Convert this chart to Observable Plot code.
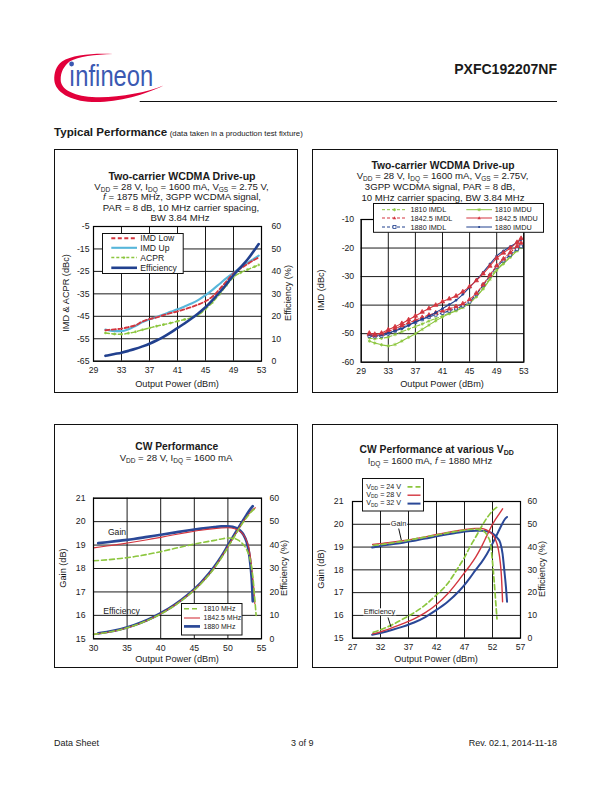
<!DOCTYPE html>
<html><head><meta charset="utf-8">
<script src="https://cdn.jsdelivr.net/npm/d3@7"></script>
<script src="https://cdn.jsdelivr.net/npm/@observablehq/plot@0.6"></script>
<style>
html,body{margin:0;padding:0;background:#fff;}
#page{position:relative;width:612px;height:792px;overflow:hidden;background:#fff;font-family:"Liberation Sans",Arial,Helvetica,sans-serif;color:#1a1a1a;}
</style></head>
<body><div id="page"></div>
<script>
// ================= DATA =================
// Chart 1: Two-carrier WCDMA Drive-up (IMD/ACPR in dBc, Efficiency in %)
const c1Pout   = [30.7, 32, 33, 34, 35, 36, 37, 38, 39, 40, 41, 42, 43, 44, 45, 46, 47, 48, 49, 50, 51, 52, 52.6];
const c1ImdLow = [-51.2,-50.8,-50.5,-49.8,-49.0,-47.3,-46.2,-45.5,-44.5,-43.6,-42.8,-41.9,-40.9,-39.7,-38.3,-36.2,-33.0,-29.4,-25.9,-23.7,-21.7,-19.8,-18.8];
const c1ImdUp  = [-50.9,-51.6,-51.6,-50.8,-49.3,-47.6,-46.3,-45.3,-44.2,-43.0,-41.9,-40.6,-39.3,-37.7,-35.6,-33.2,-30.6,-28.0,-25.6,-23.3,-21.2,-19.2,-18.0];
const c1Acpr   = [-52.4,-52.9,-53.0,-52.5,-51.9,-51.0,-50.2,-49.4,-48.7,-48.0,-47.2,-46.4,-45.6,-44.3,-41.8,-38.8,-35.2,-31.2,-27.6,-25.6,-24.2,-22.9,-22.1];
const c1Eff    = [2.4, 3.2, 3.8, 4.6, 5.5, 6.6, 7.8, 9.2, 10.8, 12.7, 14.8, 16.8, 19.0, 21.4, 24.0, 27.2, 30.6, 34.3, 38.3, 41.8, 45.3, 49.5, 52.2];
const c1XTicks = [29, 33, 37, 41, 45, 49, 53];
const c1YTicks = [-65, -55, -45, -35, -25, -15, -5];

// Chart 2: IMD vs output power at three frequencies
const c2Pout     = [30.2, 31, 32, 33, 34, 35, 36, 37, 38, 39, 40, 41, 42, 43, 44, 45, 46, 47, 48, 49, 50, 51, 52, 52.6];
const c2_1810L   = [-51.5,-51.8,-51.6,-51.2,-50.3,-49.3,-48.4,-47.5,-46.6,-45.6,-44.7,-43.8,-42.8,-41.8,-40.7,-39.3,-37.0,-34.0,-30.5,-27.4,-25.2,-23.0,-20.8,-19.8];
const c2_1810U   = [-52.6,-53.3,-53.9,-54.3,-53.8,-52.6,-51.3,-50.0,-48.5,-47.0,-45.5,-44.2,-43.0,-42.0,-40.8,-39.2,-37.0,-34.3,-31.0,-27.8,-25.5,-23.2,-21.0,-19.6];
const c2_1842L   = [-50.2,-50.6,-50.2,-49.2,-48.3,-47.2,-46.2,-45.3,-44.3,-43.5,-42.7,-42.0,-41.3,-40.5,-39.5,-38.0,-35.8,-32.8,-29.5,-26.2,-23.8,-21.6,-19.4,-18.2];
const c2_1842U   = [-49.8,-50.2,-49.8,-48.6,-47.6,-46.4,-45.1,-43.8,-42.4,-41.2,-40.0,-38.8,-37.8,-36.8,-35.3,-33.5,-31.4,-29.0,-26.3,-23.5,-21.7,-20.0,-18.0,-16.6];
const c2_1880L   = [-50.8,-51.0,-50.8,-50.0,-49.0,-47.8,-46.8,-46.0,-45.0,-44.2,-43.4,-42.8,-42.0,-41.2,-40.2,-38.8,-36.2,-33.0,-29.7,-26.6,-24.4,-22.4,-20.4,-19.4];
const c2_1880U   = [-50.3,-50.6,-50.4,-49.8,-49.0,-48.3,-47.1,-45.9,-44.9,-43.9,-42.6,-41.2,-39.8,-38.3,-36.2,-33.8,-31.2,-28.5,-25.6,-22.8,-21.0,-19.5,-18.0,-17.0];
const c2Names    = ["1810 IMDL", "1842.5 IMDL", "1880 IMDL", "1810 IMDU", "1842.5 IMDU", "1880 IMDU"];
const c2XTicks = [29, 33, 37, 41, 45, 49, 53];
const c2YTicks = [-60, -50, -40, -30, -20, -10];

// Chart 3: CW Performance (Gain dB, Efficiency %)
const c3Gain1880X = [30.7, 32, 34, 36, 38, 40, 42, 44, 46, 48, 49, 50, 50.7, 51.3, 51.8, 52.3, 52.8, 53.1, 53.4, 53.6, 53.7];
const c3Gain1880  = [19.08,19.12,19.19,19.26,19.35,19.44,19.53,19.62,19.70,19.77,19.80,19.80,19.78,19.72,19.62,19.45,19.12,18.75,18.05,17.30,16.60];
const c3Gain1842X = [30, 32, 34, 36, 38, 40, 42, 44, 46, 48, 49, 50, 51, 51.6, 52.2, 52.7, 53.1, 53.4, 53.7, 53.9, 54.0];
const c3Gain1842  = [18.88,18.96,19.04,19.13,19.23,19.33,19.44,19.54,19.63,19.70,19.73,19.74,19.70,19.62,19.48,19.25,18.90,18.40,17.60,17.00,16.50];
const c3Gain1810X = [30, 32, 34, 36, 38, 40, 42, 44, 46, 48, 49, 50, 51, 51.6, 52.2, 52.8, 53.2, 53.5, 53.8, 54.0, 54.2];
const c3Gain1810  = [18.33,18.37,18.43,18.50,18.60,18.72,18.85,18.98,19.10,19.20,19.26,19.30,19.28,19.20,19.05,18.80,18.50,18.10,17.40,16.70,16.00];
const c3Eff1880X  = [30.7, 32, 34, 36, 38, 40, 42, 44, 46, 48, 49, 50, 51, 52, 52.8, 53.3, 53.7];
const c3Eff1880   = [2.3, 2.9, 4.1, 5.8, 8.0, 10.9, 14.4, 18.7, 24.0, 30.8, 35.0, 39.8, 44.6, 49.3, 53.0, 55.2, 56.6];
const c3Eff1842X  = [30, 32, 34, 36, 38, 40, 42, 44, 46, 48, 49, 50, 51, 52, 53, 53.6, 54.1];
const c3Eff1842   = [1.9, 2.7, 3.9, 5.6, 7.8, 10.7, 14.2, 18.5, 23.8, 30.5, 34.7, 39.4, 44.2, 48.9, 52.8, 54.9, 55.9];
const c3Eff1810X  = [30, 32, 34, 36, 38, 40, 42, 44, 46, 48, 49, 50, 51, 52, 53, 53.7, 54.2];
const c3Eff1810   = [1.9, 2.7, 3.9, 5.6, 7.8, 10.6, 14.0, 18.3, 23.5, 30.2, 34.4, 39.0, 43.8, 48.5, 52.5, 54.8, 55.8];
const c3XTicks = [30, 35, 40, 45, 50, 55];
const gainTicks = [15, 16, 17, 18, 19, 20, 21];

// Chart 4: CW Performance at various VDD (f = 1880 MHz)
const c4Gain24X = [30.7, 32, 34, 36, 38, 40, 42, 44, 46, 48, 49, 50, 50.7, 51.2, 51.6, 52, 52.3, 52.6, 52.8];
const c4Gain24  = [19.07,19.11,19.18,19.26,19.35,19.44,19.53,19.62,19.70,19.77,19.79,19.74,19.64,19.45,19.20,18.35,17.50,16.50,15.85];
const c4Gain28X = [30.6, 32, 34, 36, 38, 40, 42, 44, 46, 48, 49, 50, 51, 51.9, 52.5, 53, 53.4, 53.6, 53.8];
const c4Gain28  = [19.12,19.15,19.21,19.28,19.36,19.45,19.55,19.64,19.73,19.80,19.82,19.82,19.74,19.58,19.35,18.95,18.30,17.70,16.60];
const c4Gain32X = [30.5, 32, 34, 36, 38, 40, 42, 44, 46, 48, 49, 50, 51, 52, 52.8, 53.4, 53.8, 54.1, 54.4, 54.6];
const c4Gain32  = [18.98,19.05,19.12,19.19,19.28,19.37,19.47,19.56,19.64,19.70,19.72,19.72,19.69,19.60,19.42,19.18,18.70,18.00,17.25,16.60];
const c4Eff24X  = [30.7, 32, 34, 36, 38, 40, 42, 44, 46, 47, 48, 49, 50, 51, 51.9, 52.5, 52.8];
const c4Eff24   = [2.6, 3.7, 5.8, 8.4, 11.2, 14.6, 19.0, 24.0, 31.5, 35.5, 40.2, 44.4, 48.8, 52.8, 55.6, 57.0, 57.5];
const c4Eff28X  = [30.6, 32, 34, 36, 38, 40, 42, 44, 46, 47, 48, 49, 50, 51, 52, 52.5, 53.2, 53.8];
const c4Eff28   = [1.9, 2.8, 4.5, 6.4, 8.5, 11.2, 14.8, 19.5, 25.5, 28.8, 32.0, 35.6, 40.0, 45.0, 50.0, 52.0, 54.6, 56.8];
const c4Eff32X  = [30.5, 32, 34, 36, 38, 40, 42, 44, 46, 47, 48, 49, 50, 51, 52, 53, 53.7, 54.2, 54.6];
const c4Eff32   = [1.5, 2.3, 3.6, 5.1, 6.9, 9.3, 12.4, 16.0, 20.6, 23.4, 26.6, 30.0, 33.2, 37.0, 41.5, 46.5, 50.0, 52.2, 53.2];
const c4XTicks = [27, 32, 37, 42, 47, 52, 57];

// ================= STYLE =================
const FONT = '"Liberation Sans", Arial, Helvetica, sans-serif';
const RED = "#d3353e", CYAN = "#57b6da", GREEN = "#8cc63e", NAVY = "#21408e", BLUE = "#2a4897";
const page = document.getElementById("page");
const sub = s => `<span style="font-size:68%;position:relative;top:0.28em">${s}</span>`;

function addText(html, x, y, o = {}) {
  const d = document.createElement("div");
  const tx = o.anchor === "start" ? "0" : o.anchor === "end" ? "-100%" : "-50%";
  d.innerHTML = html;
  d.style.cssText = `position:absolute;left:${x}px;top:${y}px;font-size:${o.size || 9}px;font-weight:${o.weight || 400};` +
    `line-height:1;white-space:nowrap;color:#1a1a1a;transform:translate(${tx},-50%)${o.rotate ? ` rotate(${o.rotate}deg)` : ""};` +
    (o.bg ? `background:${o.bg};padding:0 1px;` : "");
  page.appendChild(d);
  return d;
}
function addBox(x, y, w, h) {
  const d = document.createElement("div");
  d.style.cssText = `position:absolute;left:${x}px;top:${y}px;width:${w}px;height:${h}px;border:1px solid #111;border-top:1.4px solid #111;box-sizing:border-box;`;
  page.appendChild(d);
}
function addPlot(svg, x, y) {
  svg.style.position = "absolute"; svg.style.left = x + "px"; svg.style.top = y + "px";
  page.appendChild(svg);
}
function addSvg(x, y, w, h, inner) {
  const d = document.createElement("div");
  d.style.cssText = `position:absolute;left:${x}px;top:${y}px;width:${w}px;height:${h}px;`;
  d.innerHTML = `<svg width="${w}" height="${h}" style="display:block;overflow:visible">${inner}</svg>`;
  page.appendChild(d);
}

function basePlot(o) {
  const marks = [
    Plot.gridX(o.xTicks, {stroke: "#000", strokeOpacity: 1, strokeWidth: 0.9}),
    Plot.gridY(o.yTicks, {stroke: "#000", strokeOpacity: 1, strokeWidth: 0.9}),
    ...o.marks,
    Plot.frame({stroke: "#000", strokeWidth: 1.2}),
    Plot.axisX(o.xTicks, {tickSize: 0, tickPadding: o.padB, tickFormat: d => String(d), label: null, fontSize: 8.7}),
    Plot.axisY(o.yTicks, {anchor: "left", tickSize: 0, tickPadding: o.padL, tickFormat: d => String(d), label: null, fontSize: 8.7})
  ];
  if (o.rightFmt) marks.push(Plot.axisY(o.yTicks, {anchor: "right", tickSize: 0, tickPadding: o.padR, tickFormat: o.rightFmt, label: null, fontSize: 8.7}));
  return Plot.plot({
    width: o.w, height: o.h,
    marginLeft: o.mL, marginRight: o.mR, marginTop: o.mT, marginBottom: o.mB,
    x: {domain: o.xDom, axis: null},
    y: {domain: o.yDom, axis: null},
    style: {background: "transparent", fontFamily: FONT, fontSize: "8.7px", color: "#1a1a1a", overflow: "visible"},
    marks
  });
}
const zip = (xs, ys) => xs.map((x, i) => ({x, y: ys[i]}));

// ================= HEADER =================
addSvg(0, 0, 200, 110, `
  <path d="M113,54 C95,53 72,54.5 62,61.5 C56,66 54,73 54.3,80 C55,92 70,101 92,102 C115,103 145,95 163.5,85.5
           C145,93 115,98.5 92,97 C72,95.5 61,89 60.7,80 C60.5,72 64,66 70,61.3 C78,56.5 95,54.6 113,54 Z" fill="#e2003b"/>
  <text x="68.7" y="85.5" font-family="'Liberation Sans Narrow','Arial Narrow','Liberation Sans',sans-serif" font-size="29" fill="#3b59b2" textLength="84.6" lengthAdjust="spacingAndGlyphs">ınfineon</text>
  <circle cx="71.6" cy="64" r="2.4" fill="#3b59b2"/>`);
addText("PXFC192207NF", 557, 68.6, {anchor: "end", size: 14, weight: 700});
addSvg(0, 0, 612, 792, `<line x1="139.7" y1="101.5" x2="557" y2="101.5" stroke="#111" stroke-width="1.2"/>`);
addText(`<span style="font-size:11.6px;font-weight:700">Typical Performance</span> <span style="font-size:7.8px">(data taken in a production test fixture)</span>`, 54, 131.5, {anchor: "start"});

// ================= BOXES =================
addBox(54, 149, 244, 244);
addBox(312, 149, 246, 244);
addBox(54, 424, 244, 244);
addBox(312, 424, 246, 244);

// ================= CHART 1 =================
{
  const effY = e => e - 65; // efficiency axis (0..60 %) shares the frame of the dBc axis (-65..-5)
  const rows = c1Pout.map((x, i) => ({x, low: c1ImdLow[i], up: c1ImdUp[i], acpr: c1Acpr[i], eff: c1Eff[i]}));
  const svg = basePlot({
    w: 244, h: 244, mL: 39, mR: 37, mT: 77, mB: 32.3,
    xDom: [29, 53], yDom: [-65, -5], xTicks: c1XTicks, yTicks: c1YTicks,
    padB: 5.5, padL: 4, padR: 10, rightFmt: d => String(d + 65),
    marks: [
      Plot.line(rows, {x: "x", y: "acpr", stroke: GREEN, strokeWidth: 1.5, strokeDasharray: "4,2.5", curve: "monotone-x"}),
      Plot.dot(rows, {x: "x", y: "acpr", stroke: GREEN, r: 1.3, symbol: "asterisk", strokeWidth: 0.8}),
      Plot.line(rows, {x: "x", y: "up", stroke: CYAN, strokeWidth: 2.1, curve: "monotone-x"}),
      Plot.line(rows, {x: "x", y: "low", stroke: RED, strokeWidth: 1.9, strokeDasharray: "4,2.5", curve: "monotone-x"}),
      Plot.line(rows, {x: "x", y: d => effY(d.eff), stroke: NAVY, strokeWidth: 2.6, curve: "monotone-x"})
    ]
  });
  addPlot(svg, 54, 149);
  addText("Two-carrier WCDMA Drive-up", 182, 176, {size: 10.6, weight: 700});
  addText(`V${sub("DD")} = 28 V, I${sub("DQ")} = 1600 mA, V${sub("GS")} = 2.75 V,`, 181.5, 186.7, {size: 9.6});
  addText(`<i>f</i> = 1875 MHz, 3GPP WCDMA signal,`, 182, 197, {size: 9.6});
  addText(`PAR = 8 dB, 10 MHz carrier spacing,`, 181, 207.6, {size: 9.6});
  addText(`BW 3.84 MHz`, 180, 218.3, {size: 9.6});
  addText("Output Power (dBm)", 177, 385, {size: 9.2});
  addText("IMD &amp; ACPR (dBc)", 67, 293, {size: 9.2, rotate: -90});
  addText("Efficiency (%)", 288.7, 293, {size: 9.2, rotate: -90});
  // legend
  const items = [
    {t: "IMD Low", c: RED, w: 1.9, dash: "4,2.5"},
    {t: "IMD Up", c: CYAN, w: 2.1, dash: null},
    {t: "ACPR", c: GREEN, w: 1.5, dash: "3,2", mk: true},
    {t: "Efficiency", c: NAVY, w: 2.6, dash: null}
  ];
  const ys = [5.2, 14.8, 24.6, 34.8];
  let inner = `<rect x="0.5" y="0.5" width="80.7" height="40" fill="#fff" stroke="#111" stroke-width="1"/>`;
  items.forEach((it, i) => {
    inner += `<line x1="9.3" x2="35" y1="${ys[i]}" y2="${ys[i]}" stroke="${it.c}" stroke-width="${it.w}" ${it.dash ? `stroke-dasharray="${it.dash}"` : ""}/>`;
    if (it.mk) inner += `<circle cx="22" cy="${ys[i]}" r="1.2" fill="${it.c}"/>`;
    inner += `<text x="38.3" y="${ys[i]}" dy="0.35em" font-family='${FONT}' font-size="8.6" fill="#1a1a1a">${it.t}</text>`;
  });
  addSvg(102, 232.7, 82, 41, inner);
}

// ================= CHART 2 =================
{
  const series = [
    {vals: c2_1810U, c: GREEN, dash: null, sym: "asterisk", fill: "none"},
    {vals: c2_1810L, c: GREEN, dash: "3,2", sym: "asterisk", fill: "none"},
    {vals: c2_1880L, c: NAVY, dash: "3,2", sym: "square", fill: "#fff"},
    {vals: c2_1842L, c: RED, dash: "3,2", sym: "triangle", fill: RED},
    {vals: c2_1880U, c: NAVY, dash: null, sym: "circle", fill: NAVY},
    {vals: c2_1842U, c: RED, dash: null, sym: "triangle", fill: RED}
  ];
  const marks = [];
  series.forEach(s => {
    const d = zip(c2Pout, s.vals);
    marks.push(Plot.line(d, {x: "x", y: "y", stroke: s.c, strokeWidth: 1.1, strokeDasharray: s.dash || undefined, curve: "monotone-x"}));
    marks.push(Plot.dot(d, {x: "x", y: "y", stroke: s.c, fill: s.fill, r: s.sym === "circle" ? 1 : 1.6, symbol: s.sym, strokeWidth: 0.8}));
  });
  const svg = basePlot({
    w: 246, h: 244, mL: 48.7, mR: 34.7, mT: 70, mB: 31.3,
    xDom: [29, 53], yDom: [-60, -10], xTicks: c2XTicks, yTicks: c2YTicks,
    padB: 5.5, padL: 7, marks
  });
  addPlot(svg, 312, 149);
  addText("Two-carrier WCDMA Drive-up", 443, 166, {size: 10.3, weight: 700});
  addText(`V${sub("DD")} = 28 V, I${sub("DQ")} = 1600 mA, V${sub("GS")} = 2.75V,`, 442.5, 176.3, {size: 9.6});
  addText(`3GPP WCDMA signal, PAR = 8 dB,`, 440, 187, {size: 9.6});
  addText(`10 MHz carrier spacing, BW 3.84 MHz`, 443, 197.7, {size: 9.6});
  addText("Output Power (dBm)", 442, 385, {size: 9.2});
  addText("IMD (dBc)", 321.7, 290, {size: 9.2, rotate: -90});
  // legend
  const leg = [
    {t: c2Names[0], c: GREEN, dash: "3,2", sym: "ast"}, {t: c2Names[3], c: GREEN, dash: null, sym: "ast"},
    {t: c2Names[1], c: RED, dash: "3,2", sym: "tri"}, {t: c2Names[4], c: RED, dash: null, sym: "tri"},
    {t: c2Names[2], c: NAVY, dash: "3,2", sym: "sq"}, {t: c2Names[5], c: NAVY, dash: null, sym: "dot"}
  ];
  const ys = [6.7, 15, 24];
  let inner = `<rect x="0.5" y="0.5" width="170" height="28.8" fill="#fff" stroke="#111" stroke-width="1"/>`;
  leg.forEach((it, i) => {
    const row = Math.floor(i / 2), col = i % 2;
    const y = ys[row], x0 = col ? 93.3 : 9, x1 = col ? 119 : 34, tx = col ? 121.8 : 37.5;
    const mx = (x0 + x1) / 2;
    inner += `<line x1="${x0}" x2="${x1}" y1="${y}" y2="${y}" stroke="${it.c}" stroke-width="1" ${it.dash ? `stroke-dasharray="${it.dash}"` : ""}/>`;
    if (it.sym === "ast") inner += `<path d="M${mx - 1.6},${y}h3.2M${mx},${y - 1.6}v3.2M${mx - 1.1},${y - 1.1}l2.2,2.2M${mx - 1.1},${y + 1.1}l2.2,-2.2" stroke="${it.c}" stroke-width="0.8"/>`;
    if (it.sym === "tri") inner += `<path d="M${mx},${y - 1.8}L${mx + 1.7},${y + 1.2}L${mx - 1.7},${y + 1.2}Z" fill="${it.c}"/>`;
    if (it.sym === "sq") inner += `<rect x="${mx - 1.5}" y="${y - 1.5}" width="3" height="3" fill="#fff" stroke="${it.c}" stroke-width="0.8"/>`;
    if (it.sym === "dot") inner += `<circle cx="${mx}" cy="${y}" r="1" fill="${it.c}"/>`;
    inner += `<text x="${tx}" y="${y}" dy="0.35em" font-family='${FONT}' font-size="7.3" fill="#1a1a1a">${it.t}</text>`;
  });
  addSvg(372.7, 203.3, 171, 30, inner);
}

// ================= CHART 3 =================
{
  const effY = e => e / 10 + 15; // efficiency (0..60 %) on the gain frame (15..21 dB)
  const marks = [
    Plot.line(zip(c3Gain1880X, c3Gain1880), {x: "x", y: "y", stroke: BLUE, strokeWidth: 2.7, curve: "monotone-x"}),
    Plot.line(zip(c3Eff1880X, c3Eff1880), {x: "x", y: d => effY(d.y), stroke: BLUE, strokeWidth: 2.7, curve: "monotone-x"}),
    Plot.line(zip(c3Gain1842X, c3Gain1842), {x: "x", y: "y", stroke: RED, strokeWidth: 1.1, curve: "monotone-x"}),
    Plot.line(zip(c3Eff1842X, c3Eff1842), {x: "x", y: d => effY(d.y), stroke: RED, strokeWidth: 1.1, curve: "monotone-x"}),
    Plot.line(zip(c3Gain1810X, c3Gain1810), {x: "x", y: "y", stroke: GREEN, strokeWidth: 1.6, strokeDasharray: "5,3", curve: "monotone-x"}),
    Plot.line(zip(c3Eff1810X, c3Eff1810), {x: "x", y: d => effY(d.y), stroke: GREEN, strokeWidth: 1.6, strokeDasharray: "5,3", curve: "monotone-x"})
  ];
  const svg = basePlot({
    w: 244, h: 244, mL: 39, mR: 37, mT: 73.7, mB: 29.7,
    xDom: [30, 55], yDom: [15, 21], xTicks: c3XTicks, yTicks: gainTicks,
    padB: 6, padL: 8, padR: 8, rightFmt: d => String((d - 15) * 10), marks
  });
  addPlot(svg, 54, 424);
  addText("CW Performance", 176.7, 446.7, {size: 10.3, weight: 700});
  addText(`V${sub("DD")} = 28 V, I${sub("DQ")} = 1600 mA`, 176, 458.3, {size: 9.6});
  addText("Output Power (dBm)", 177, 660, {size: 9.2});
  addText("Gain (dB)", 63.7, 568, {size: 9.2, rotate: -90});
  addText("Efficiency (%)", 285.3, 568, {size: 9.2, rotate: -90});
  addText("Gain", 117, 532.3, {size: 8.6});
  addText("Efficiency", 121.5, 610.7, {size: 8.6});
  const leg = [{t: "1810 MHz", c: GREEN, w: 1.6, dash: "5,3"}, {t: "1842.5 MHz", c: RED, w: 1.1}, {t: "1880 MHz", c: BLUE, w: 2.7}];
  const ys = [5.8, 15, 23.4];
  let inner = `<rect x="0.5" y="0.5" width="60.5" height="31.5" fill="#fff" stroke="#111" stroke-width="1"/>`;
  leg.forEach((it, i) => {
    inner += `<line x1="3" x2="19" y1="${ys[i]}" y2="${ys[i]}" stroke="${it.c}" stroke-width="${it.w}" ${it.dash ? `stroke-dasharray="${it.dash}"` : ""}/>`;
    inner += `<text x="22.5" y="${ys[i]}" dy="0.35em" font-family='${FONT}' font-size="7" fill="#1a1a1a">${it.t}</text>`;
  });
  addSvg(181.3, 603.3, 62, 33, inner);
}

// ================= CHART 4 =================
{
  const effY = e => e / 10 + 15;
  const marks = [
    Plot.line(zip(c4Gain32X, c4Gain32), {x: "x", y: "y", stroke: BLUE, strokeWidth: 2, curve: "monotone-x"}),
    Plot.line(zip(c4Eff32X, c4Eff32), {x: "x", y: d => effY(d.y), stroke: BLUE, strokeWidth: 2, curve: "monotone-x"}),
    Plot.line(zip(c4Gain28X, c4Gain28), {x: "x", y: "y", stroke: RED, strokeWidth: 1.4, curve: "monotone-x"}),
    Plot.line(zip(c4Eff28X, c4Eff28), {x: "x", y: d => effY(d.y), stroke: RED, strokeWidth: 1.4, curve: "monotone-x"}),
    Plot.line(zip(c4Gain24X, c4Gain24), {x: "x", y: "y", stroke: GREEN, strokeWidth: 1.7, strokeDasharray: "5,3", curve: "monotone-x"}),
    Plot.line(zip(c4Eff24X, c4Eff24), {x: "x", y: d => effY(d.y), stroke: GREEN, strokeWidth: 1.7, strokeDasharray: "5,3", curve: "monotone-x"})
  ];
  const svg = basePlot({
    w: 246, h: 244, mL: 40, mR: 38, mT: 77, mB: 30.3,
    xDom: [27, 57], yDom: [15, 21], xTicks: c4XTicks, yTicks: gainTicks,
    padB: 5.5, padL: 9, padR: 7, rightFmt: d => String((d - 15) * 10), marks
  });
  addPlot(svg, 312, 424);
  addText(`CW Performance at various V${sub("DD")}`, 436.7, 450, {size: 10.3, weight: 700});
  addText(`I${sub("DQ")} = 1600 mA, <i>f</i> = 1880 MHz`, 430, 460.7, {size: 9.6});
  addText("Output Power (dBm)", 436, 660, {size: 9.2});
  addText("Gain (dB)", 321.7, 569, {size: 9.2, rotate: -90});
  addText("Efficiency (%)", 543.3, 569, {size: 9.2, rotate: -90});
  addSvg(0, 0, 612, 792, `<line x1="398.7" y1="528.5" x2="401.3" y2="540" stroke="#111" stroke-width="1"/>
    <line x1="388" y1="617.5" x2="391" y2="627" stroke="#111" stroke-width="1"/>`);
  addText("Gain", 398.5, 523.5, {size: 7.4, bg: "#fff"});
  addText("Efficiency", 379.5, 611.7, {size: 7.4, bg: "#fff"});
  const leg = [{t: `V${sub("DD")} = 24 V`, c: GREEN, w: 1.7, dash: "5,3"}, {t: `V${sub("DD")} = 28 V`, c: RED, w: 1.4}, {t: `V${sub("DD")} = 32 V`, c: BLUE, w: 2}];
  const ys = [8.8, 17.2, 25.6];
  let inner = `<rect x="0.5" y="0.5" width="61" height="32.5" fill="#fff" stroke="#111" stroke-width="1"/>`;
  leg.forEach((it, i) => {
    inner += `<line x1="45.5" x2="58.5" y1="${ys[i]}" y2="${ys[i]}" stroke="${it.c}" stroke-width="${it.w}" ${it.dash ? `stroke-dasharray="${it.dash}"` : ""}/>`;
  });
  addSvg(362.3, 477.7, 62, 34, inner);
  leg.forEach((it, i) => addText(it.t, 366.3, 477.7 + ys[i], {size: 7.2, anchor: "start"}));
}

// ================= FOOTER =================
addText("Data Sheet", 54, 743.3, {anchor: "start", size: 9});
addText("3 of 9", 302.3, 743.3, {size: 9});
addText("Rev. 02.1, 2014-11-18", 557, 743.3, {anchor: "end", size: 9});
</script>
</body></html>
